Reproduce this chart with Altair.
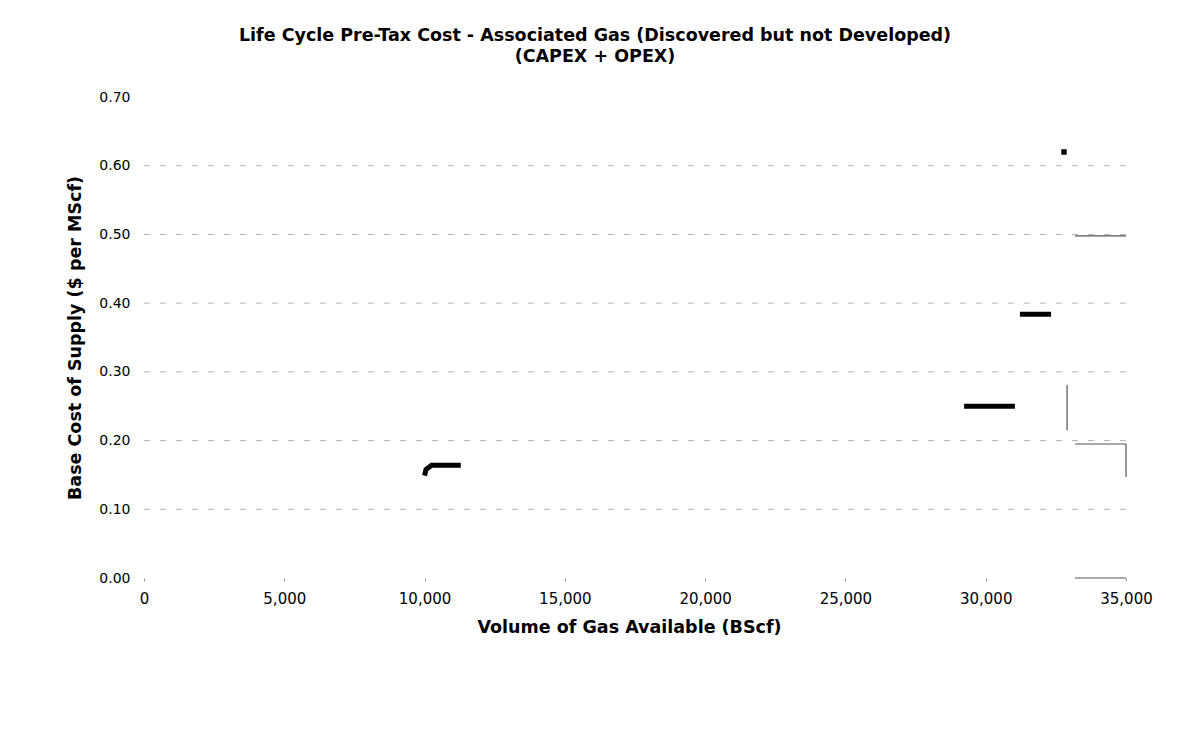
import altair as alt
import pandas as pd

# Axis ticks
x_ticks = [0, 5000, 10000, 15000, 20000, 25000, 30000, 35000]
y_ticks = [0.0, 0.1, 0.2, 0.3, 0.4, 0.5, 0.6, 0.7]
grid_levels = [0.1, 0.2, 0.3, 0.4, 0.5, 0.6]

# Visible (thick, black) pieces of the supply curve
black_seg = ["a", "a", "a", "a", "b", "b", "c", "c"]
black_x = [10000, 10050, 10250, 11290, 29230, 31040, 31220, 32330]
black_y = [0.149, 0.158, 0.164, 0.164, 0.250, 0.250, 0.384, 0.384]

# Faint (thin, grey) fragments near the right edge
gray_seg = ["d", "d", "e", "e", "e", "f", "f", "g", "g"]
gray_x = [32900, 32900, 33185, 35000, 35000, 33185, 35000, 33185, 35000]
gray_y = [0.281, 0.215, 0.195, 0.195, 0.147, 0.498, 0.498, 0.0, 0.0]

# Isolated point at the top of the curve
point_x = [32790]
point_y = [0.620]

black_df = pd.DataFrame({"seg": black_seg, "x": black_x, "y": black_y,
                         "o": list(range(len(black_x)))})
gray_df = pd.DataFrame({"seg": gray_seg, "x": gray_x, "y": gray_y,
                        "o": list(range(len(gray_x)))})
point_df = pd.DataFrame({"x": point_x, "y": point_y})
grid_df = pd.DataFrame({"y": grid_levels})

x_scale = alt.Scale(domain=[0, 35000], nice=False, zero=False)
y_scale = alt.Scale(domain=[0, 0.7], nice=False)

x_axis = alt.Axis(values=x_ticks, format=",.0f", title="Volume of Gas Available (BScf)",
                  grid=False, domain=False, ticks=True, tickSize=3, labelFlush=False,
                  labelFontSize=15, tickColor="#999999", labelPadding=10, titlePadding=12,
                  titleX=485)
y_axis = alt.Axis(values=y_ticks, format=".2f", title="Base Cost of Supply ($ per MScf)",
                  grid=False, domain=False, ticks=False, labelFlush=False, labelPadding=14,
                  titlePadding=14)

x_enc = alt.X("x:Q", scale=x_scale, axis=x_axis)
y_enc = alt.Y("y:Q", scale=y_scale, axis=y_axis)

grid = alt.Chart(grid_df).mark_rule(color="#b4b4b4", strokeWidth=1, strokeDash=[6, 10]).encode(
    y=y_enc,
    x=alt.value(0),
    x2=alt.value(982),
)

gray = alt.Chart(gray_df).mark_line(color="#555555", strokeWidth=1.2).encode(
    x=x_enc, y=y_enc, detail="seg:N", order="o:Q"
)

black = alt.Chart(black_df).mark_line(color="black", strokeWidth=5, strokeCap="butt").encode(
    x=x_enc, y=y_enc, detail="seg:N", order="o:Q"
)

pts = alt.Chart(point_df).mark_square(color="black", size=30, opacity=1).encode(
    x=x_enc, y=y_enc
)

chart = alt.layer(grid, gray, black, pts).properties(
    width=982,
    height=481,
    background="white",
    autosize=alt.AutoSizeParams(type="none"),
    padding={"left": 136, "top": 89, "right": 45, "bottom": 150},
    title=alt.TitleParams(
        text=["Life Cycle Pre-Tax Cost - Associated Gas (Discovered but not Developed)",
              "(CAPEX + OPEX)"],
        font="DejaVu Sans", fontSize=17.5, fontWeight="bold", color="black",
        anchor="middle", dx=-40, offset=25, lineHeight=21,
    ),
).configure_view(stroke=None).configure_axis(
    labelFont="DejaVu Sans", labelFontSize=14, labelColor="black",
    titleFont="DejaVu Sans", titleFontSize=17.5, titleFontWeight="bold", titleColor="black",
)

chart.save("out.html", embed_options={"renderer": "svg", "actions": False})
